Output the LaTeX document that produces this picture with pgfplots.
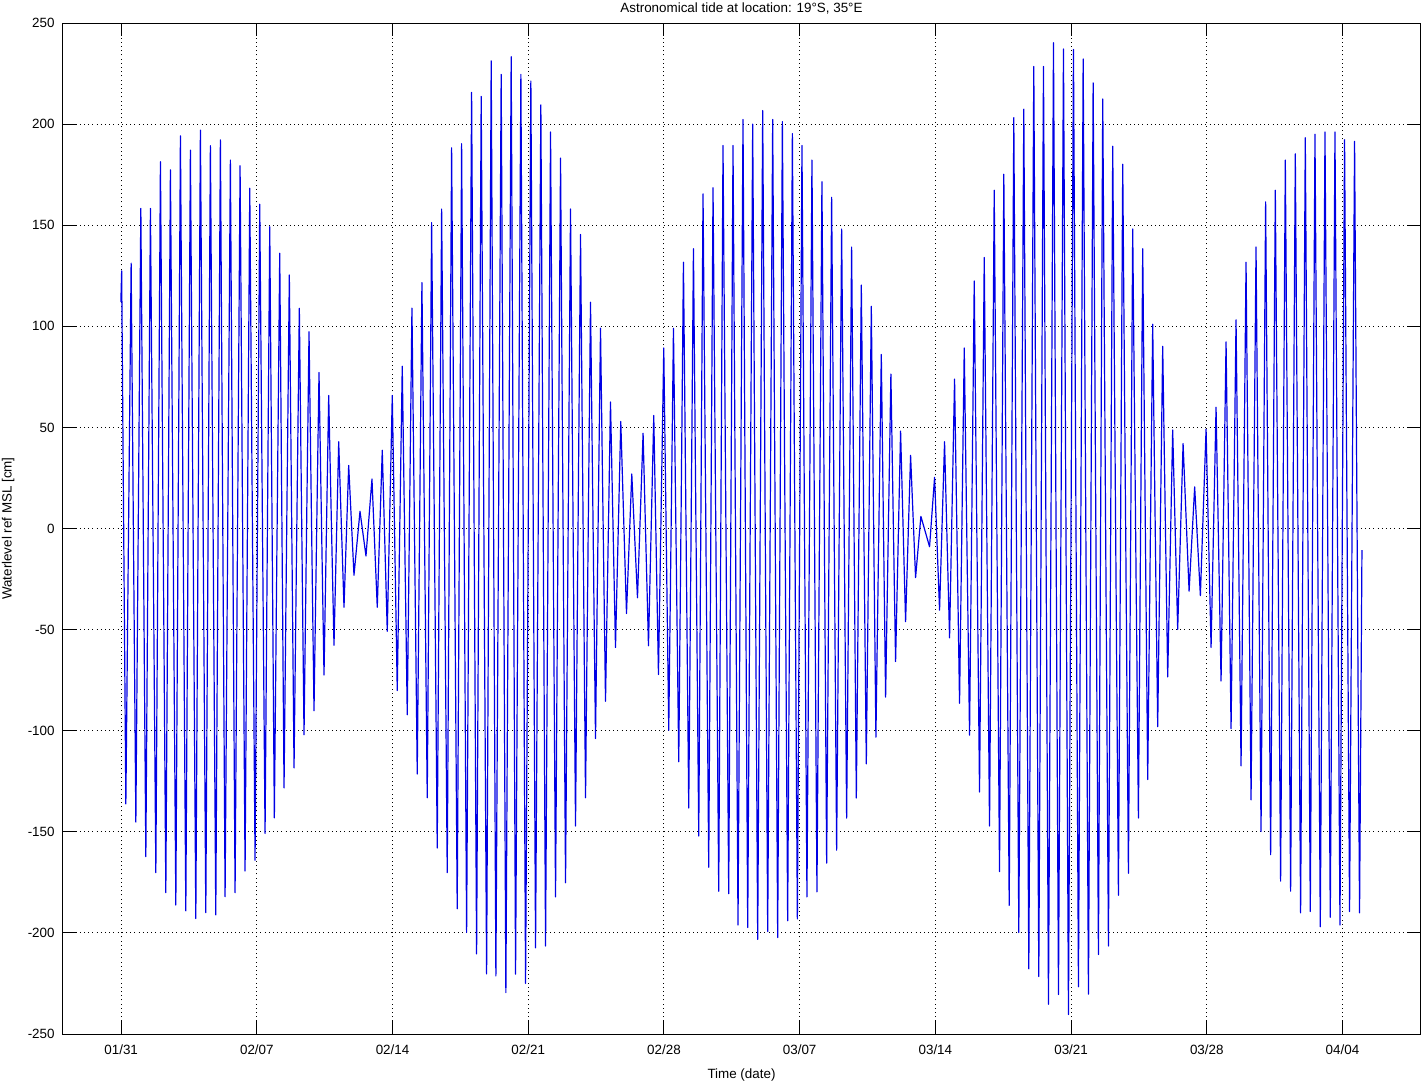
\documentclass[border=0pt]{standalone}
\usepackage{pgfplots}
\pgfplotsset{compat=1.18}
\usepackage{pgfplotstable}
\usepackage{fontspec}
\setmainfont{Liberation Sans}
\pgfplotstableread{
d v
-0.015 112.0
0.026 127.4
0.242 -136.2
0.515 131.2
0.758 -145.2
1.015 158.3
1.273 -162.3
1.510 158.3
1.789 -170.2
2.026 181.4
2.304 -180.1
2.541 177.4
2.820 -186.2
3.057 194.2
3.335 -189.1
3.572 187.1
3.851 -192.9
4.088 197.0
4.366 -190.0
4.603 189.3
4.881 -191.1
5.119 192.2
5.361 -182.1
5.634 182.2
5.876 -180.1
6.134 179.4
6.392 -169.4
6.634 168.3
6.907 -164.1
7.149 160.4
7.423 -150.8
7.665 149.2
7.902 -143.1
8.180 136.1
8.402 -128.3
8.675 125.4
8.918 -118.4
9.191 108.9
9.433 -102.0
9.691 97.3
9.948 -90.1
10.206 77.2
10.464 -72.5
10.706 65.8
10.979 -57.8
11.222 42.9
11.495 -39.0
11.737 31.2
12.010 -23.1
12.320 8.5
12.629 -13.6
12.938 24.5
13.211 -39.0
13.469 38.7
13.727 -50.8
13.985 65.8
14.242 -80.1
14.500 80.2
14.758 -92.1
15.000 109.0
15.273 -121.4
15.515 121.6
15.789 -133.2
16.015 151.3
16.304 -158.0
16.531 158.0
16.820 -170.2
17.046 188.3
17.335 -188.1
17.562 190.3
17.820 -199.8
18.077 215.7
18.335 -210.4
18.572 213.7
18.851 -220.3
19.088 231.3
19.330 -221.3
19.603 224.6
19.845 -229.5
20.119 233.3
20.345 -220.4
20.619 224.6
20.861 -225.0
21.134 221.3
21.376 -207.4
21.649 209.5
21.892 -206.5
22.149 196.1
22.407 -182.2
22.665 183.2
22.923 -175.2
23.180 158.0
23.438 -147.1
23.696 145.4
23.954 -133.2
24.211 111.9
24.469 -103.9
24.727 99.0
24.985 -85.4
25.242 62.6
25.500 -58.8
25.773 52.9
26.067 -42.0
26.340 27.0
26.634 -34.3
26.923 47.1
27.201 -58.0
27.474 55.9
27.716 -72.2
27.990 89.3
28.247 -99.8
28.490 99.0
28.763 -115.4
29.005 131.7
29.278 -138.2
29.521 138.4
29.794 -152.1
30.015 165.5
30.309 -167.5
30.531 168.5
30.825 -179.4
31.046 189.4
31.340 -180.6
31.562 189.4
31.820 -196.1
32.077 202.3
32.320 -197.3
32.577 200.0
32.835 -203.2
33.093 206.7
33.351 -199.3
33.608 202.3
33.866 -202.3
34.108 201.2
34.381 -194.0
34.624 195.3
34.881 -193.1
35.119 189.4
35.376 -182.2
35.634 182.2
35.892 -179.7
36.149 171.5
36.392 -165.5
36.649 163.8
36.907 -159.1
37.165 148.1
37.423 -143.2
37.680 139.2
37.923 -133.3
38.180 120.4
38.438 -116.4
38.696 109.9
38.933 -103.2
39.211 86.1
39.433 -83.4
39.706 76.4
39.948 -65.8
40.206 48.2
40.464 -46.1
40.722 36.2
40.979 -24.3
41.253 6.0
41.701 -9.0
41.959 25.3
42.216 -40.4
42.474 42.9
42.732 -54.1
42.990 73.9
43.247 -86.4
43.490 89.3
43.763 -102.2
44.005 122.4
44.278 -130.3
44.521 134.0
44.794 -147.1
45.036 167.3
45.309 -169.7
45.531 175.2
45.809 -186.4
46.046 203.2
46.304 -199.8
46.562 207.4
46.820 -217.8
47.077 228.5
47.335 -221.6
47.577 228.5
47.835 -235.3
48.093 240.2
48.351 -230.5
48.608 237.2
48.866 -240.4
49.124 236.9
49.381 -226.6
49.624 232.2
49.897 -230.3
50.139 220.4
50.412 -210.7
50.634 212.4
50.928 -206.5
51.149 189.1
51.443 -181.4
51.665 180.2
51.959 -170.5
52.180 148.1
52.474 -143.2
52.696 138.4
52.954 -124.1
53.211 101.0
53.469 -98.0
53.727 90.1
53.985 -73.4
54.242 48.7
54.500 -49.9
54.778 42.0
55.088 -31.0
55.376 20.6
55.670 -33.2
55.964 49.1
56.222 -58.8
56.479 60.0
56.737 -75.4
56.995 92.3
57.253 -99.0
57.510 103.2
57.768 -117.4
58.026 131.7
58.284 -134.2
58.541 139.2
58.799 -149.9
59.036 161.5
59.294 -161.3
59.536 167.3
59.809 -174.4
60.052 182.2
60.325 -179.4
60.567 185.3
60.840 -190.1
61.082 193.3
61.340 -189.4
61.582 195.0
61.856 -197.0
62.098 196.1
62.371 -192.3
62.613 196.1
62.871 -196.1
63.108 192.3
63.366 -189.4
63.624 191.5
63.881 -190.1
64.005 -10.7
}\tide
\begin{document}
\fontsize{6.7}{8}\selectfont
\begin{tikzpicture}
\path[use as bounding box] (-31.5pt,-24pt) rectangle (679.5pt,517pt);
\begin{axis}[
  at={(0pt,0pt)}, anchor=south west,
  scale only axis, width=678.5pt, height=505.5pt,
  xmin=-3, xmax=67, ymin=-250, ymax=250,
  enlargelimits=false,
  axis line style={black, line width=0.5pt},
  every tick/.style={black, line width=0.5pt},
  tick align=inside, major tick length=6.5pt,
  xtick={0,7,14,21,28,35,42,49,56,63},
  xticklabels={01/31,02/07,02/14,02/21,02/28,03/07,03/14,03/21,03/28,04/04},
  ytick={-250,-200,-150,-100,-50,0,50,100,150,200,250},
  yticklabels={-250,-200,-150,-100,-50,0,50,100,150,200,250},
  xtick pos=both, ytick pos=both,
  grid=major,
  major grid style={black, line width=0.5pt, dash pattern=on 0.5pt off 1.6pt},
  ticklabel style={font=\fontsize{6.7}{8}\selectfont},
  xticklabel style={anchor=base, yshift=-10pt, inner sep=0pt},
  yticklabel style={anchor=east, xshift=-4pt, inner sep=0pt},
  title={Astronomical tide at location: 19°S, 35°E},
  title style={at={(axis description cs:0.5,1)}, anchor=base, yshift=-0.6pt, inner sep=0pt, font=\fontsize{6.7}{8}\selectfont},
  xlabel={Time (date)},
  xlabel style={at={(axis description cs:0.5,0)}, anchor=base, yshift=-22pt, inner sep=0pt, font=\fontsize{6.7}{8}\selectfont},
  ylabel={Waterlevel ref MSL [cm]},
  ylabel style={at={(axis description cs:-0.0405,0.5)}, anchor=center, inner sep=0pt, font=\fontsize{6.7}{8}\selectfont},
]
\addplot[color={rgb,1:red,0;green,0;blue,0.9}, line width=0.6pt, line join=round] table[x=d, y=v] {\tide};
\end{axis}
\end{tikzpicture}
\end{document}
